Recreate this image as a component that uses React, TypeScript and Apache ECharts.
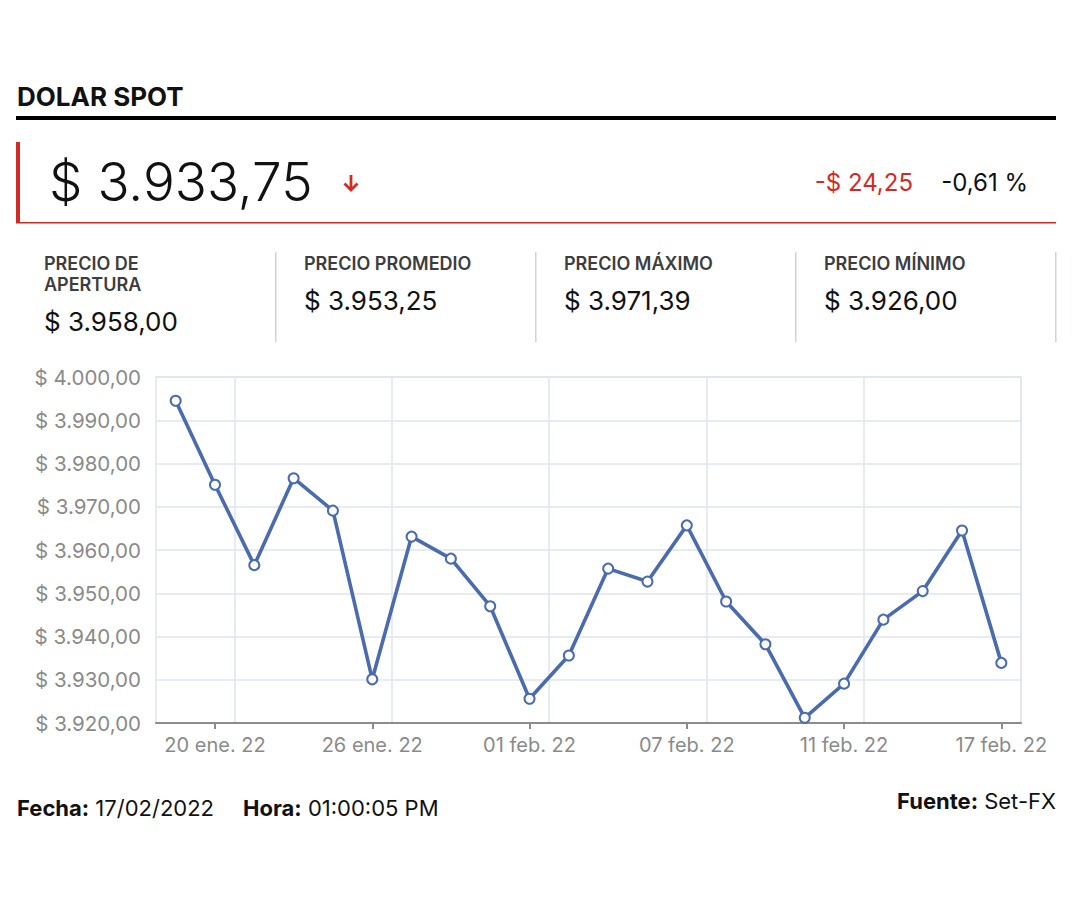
import React, { useEffect, useRef } from "react";
import * as echarts from "echarts";

const categories = [
  "19 ene. 22", "20 ene. 22", "21 ene. 22", "24 ene. 22", "25 ene. 22", "26 ene. 22",
  "27 ene. 22", "28 ene. 22", "31 ene. 22", "01 feb. 22", "02 feb. 22", "03 feb. 22",
  "04 feb. 22", "07 feb. 22", "08 feb. 22", "09 feb. 22", "10 feb. 22", "11 feb. 22",
  "14 feb. 22", "15 feb. 22", "16 feb. 22", "17 feb. 22",
];
const prices = [
  3994.5, 3975.1, 3956.5, 3976.6, 3969.1, 3930.1, 3963.1, 3958.0, 3947.0, 3925.6, 3935.6,
  3955.7, 3952.7, 3965.7, 3948.1, 3938.2, 3921.2, 3929.1, 3943.9, 3950.5, 3964.5, 3933.9,
];
const yMin = 3920;
const yMax = 4000;
const yStep = 10;

const title = "DOLAR SPOT";
const currentPrice = "$ 3.933,75";
const changeValue = "-$ 24,25";
const changePct = "-0,61 %";
const statLabels = [["PRECIO DE", "APERTURA"], ["PRECIO PROMEDIO"], ["PRECIO MÁXIMO"], ["PRECIO MÍNIMO"]];
const statValues = ["$ 3.958,00", "$ 3.953,25", "$ 3.971,39", "$ 3.926,00"];
const footer = { fecha: "17/02/2022", hora: "01:00:05 PM", fuente: "Set-FX" };

const FONT = "Inter, 'Open Sans', sans-serif";
const RED = "#d42a24";
const LINE = "#4a6bad";
const GRIDC = "#dfe5f0";

function fmt(v: number): string {
  const [i, d] = v.toFixed(2).split(".");
  const withSep = i.replace(/\B(?=(\d{3})+(?!\d))/g, ".");
  return "$ " + withSep + "," + d;
}

function txt(text: string, x: number, y: number, size: number, opts: any = {}) {
  return {
    type: "text",
    x,
    y,
    silent: true,
    style: {
      text,
      fontSize: size,
      fontFamily: FONT,
      fontWeight: opts.weight || "normal",
      fill: opts.fill || "#111",
      textAlign: opts.align || "left",
      textVerticalAlign: "middle",
    },
  };
}

function richTxt(label: string, value: string, x: number, y: number, size: number, align: string) {
  return {
    type: "text",
    x,
    y,
    silent: true,
    style: {
      text: "{b|" + label + "} {n|" + value + "}",
      fontFamily: FONT,
      fontSize: size,
      fill: "#111",
      textAlign: align,
      textVerticalAlign: "middle",
      rich: {
        b: { fontWeight: "bold", fontSize: size, fontFamily: FONT, fill: "#111" },
        n: { fontWeight: "normal", fontSize: size, fontFamily: FONT, fill: "#111" },
      },
    },
  };
}

export default function App() {
  const ref = useRef<HTMLDivElement>(null);
  useEffect(() => {
    if (!ref.current) return;
    const chart = echarts.init(ref.current, undefined, { renderer: "svg" });
    const graphics: any[] = [];
    graphics.push(txt(title, 17, 96, 26, { weight: "bold" }));
    graphics.push({ type: "rect", shape: { x: 16, y: 116, width: 1040, height: 4 }, style: { fill: "#000" }, silent: true });
    graphics.push({ type: "rect", shape: { x: 16, y: 142, width: 4, height: 81 }, style: { fill: RED }, silent: true });
    graphics.push({ type: "rect", shape: { x: 16, y: 222, width: 1040, height: 1.5 }, style: { fill: RED }, silent: true });
    graphics.push(txt(currentPrice, 49, 182, 53, { weight: 300 }));
    graphics.push({ type: "line", shape: { x1: 351, y1: 175, x2: 351, y2: 190 }, style: { stroke: RED, lineWidth: 2.8 }, silent: true });
    graphics.push({
      type: "polyline",
      shape: { points: [[344.5, 183.5], [351, 190], [357.5, 183.5]] },
      style: { stroke: RED, lineWidth: 2.8, fill: "none" },
      silent: true,
    });
    graphics.push(txt(changeValue, 913, 182, 24, { fill: RED, align: "right" }));
    graphics.push(txt(changePct, 1028, 182, 24, { align: "right" }));

    const colX = [16, 276, 536, 796];
    colX.forEach((cx, i) => {
      const lines = statLabels[i];
      lines.forEach((l, j) => {
        graphics.push(txt(l, cx + 28, 263 + j * 21, 18, { weight: 600, fill: "#3d3d3d" }));
      });
      const vy = lines.length > 1 ? 321 : 300;
      graphics.push(txt(statValues[i], cx + 28, vy, 26));
      graphics.push({ type: "rect", shape: { x: cx + 259, y: 252, width: 1.5, height: 90 }, style: { fill: "#cfd2da" }, silent: true });
    });

    graphics.push(richTxt("Fecha:", footer.fecha, 17, 808, 22, "left"));
    graphics.push(richTxt("Hora:", footer.hora, 243, 808, 22, "left"));
    graphics.push(richTxt("Fuente:", footer.fuente, 1056, 801, 22, "right"));

    chart.setOption({
      animation: false,
      backgroundColor: "#fff",
      graphic: graphics,
      grid: {
        left: 156,
        right: 59,
        top: 377,
        bottom: 177,
        show: true,
        borderColor: GRIDC,
        borderWidth: 1.5,
        containLabel: false,
      },
      xAxis: {
        type: "category",
        data: categories,
        boundaryGap: true,
        axisLine: { show: true, lineStyle: { color: "#8c8c8c", width: 2 } },
        axisTick: {
          show: true,
          alignWithLabel: true,
          length: 6,
          interval: (i: number) => i % 4 === 1,
          lineStyle: { color: "#8c8c8c", width: 2 },
        },
        axisLabel: {
          interval: (i: number) => i % 4 === 1,
          color: "#8a8a8a",
          fontSize: 20,
          fontFamily: FONT,
          margin: 12,
        },
        splitLine: {
          show: true,
          interval: (i: number) => i % 4 === 2,
          lineStyle: { color: GRIDC, width: 1.5 },
        },
      },
      yAxis: {
        type: "value",
        min: yMin,
        max: yMax,
        interval: yStep,
        axisLine: { show: false },
        axisTick: { show: false },
        axisLabel: {
          formatter: (v: number) => fmt(v),
          color: "#8a8a8a",
          fontSize: 20.5,
          fontFamily: FONT,
          margin: 15,
        },
        splitLine: { show: true, lineStyle: { color: GRIDC, width: 1.5 } },
      },
      series: [
        {
          type: "line",
          data: prices,
          symbol: "emptyCircle",
          symbolSize: 10,
          lineStyle: { color: LINE, width: 3.6 },
          itemStyle: { color: LINE, borderWidth: 2.8 },
        },
      ],
    });
    return () => chart.dispose();
  }, []);
  return (
    <div
      ref={ref}
      style={{ position: "absolute", left: 0, top: 0, width: 1080, height: 900, background: "#fff" }}
    />
  );
}
